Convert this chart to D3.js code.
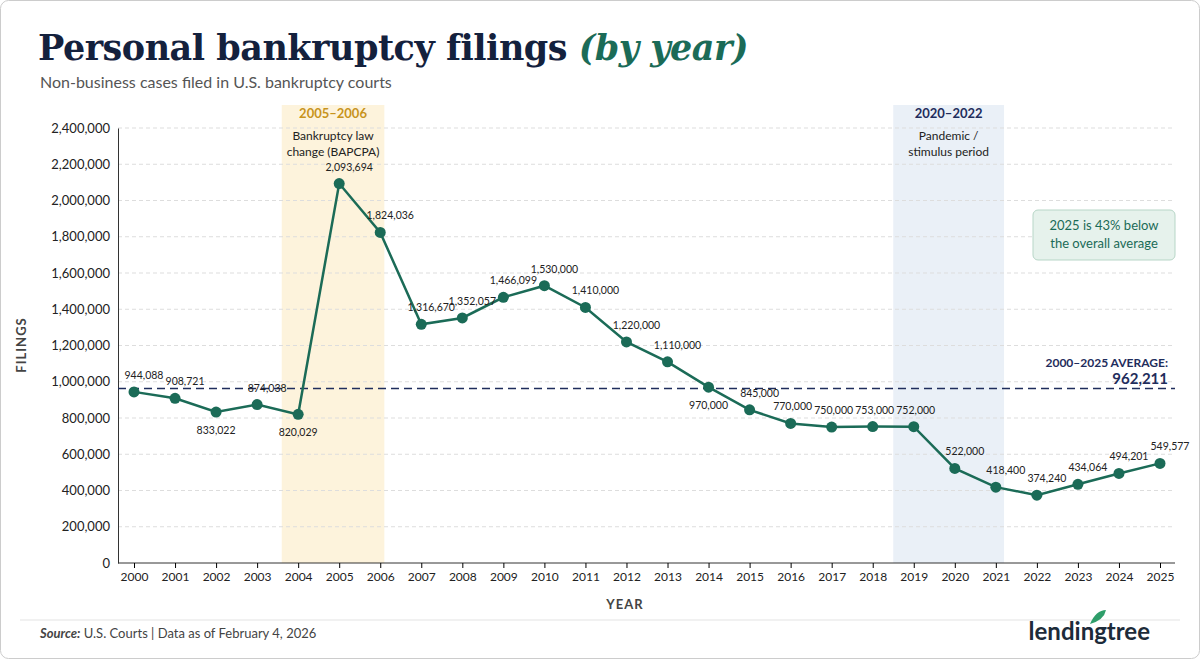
<!DOCTYPE html>
<html><head><meta charset="utf-8">
<script src="https://cdn.jsdelivr.net/npm/d3@7"></script>
<style>body{margin:0;background:#fff;font-family:Lato,"Open Sans",sans-serif}</style>
</head><body><svg id="c" width="1200" height="659"></svg>
<script>
const years=d3.range(2000,2026);
const filings=[944088,908721,833022,874038,820029,2093694,1824036,1316670,1352057,1466099,1530000,1410000,1220000,1110000,970000,845000,770000,750000,753000,752000,522000,418400,374240,434064,494201,549577];
const yTicks=[0,200000,400000,600000,800000,1000000,1200000,1400000,1600000,1800000,2000000,2200000,2400000];
const average=962211;
const bands=[{from:2003.6,to:2006.1,title:"2005–2006",sub:["Bankruptcy law","change (BAPCPA)"],fill:"#fdf3dc",tc:"#c8941c"},
             {from:2018.5,to:2021.2,title:"2020–2022",sub:["Pandemic /","stimulus period"],fill:"#eaf0f7",tc:"#1f2d5c"}];
const green="#1b6b57", navy="#1f2d5c";
const svg=d3.select("#c");
svg.append("rect").attr("x",0.5).attr("y",0.5).attr("width",1199).attr("height",658).attr("rx",8).attr("fill","#fff").attr("stroke","#ccc");
const x=d3.scaleLinear().domain([2000,2025]).range([134,1160]);
const y=d3.scaleLinear().domain([0,2400000]).range([563,128]);
bands.forEach(b=>{
  svg.append("rect").attr("x",x(b.from)).attr("y",105).attr("width",x(b.to)-x(b.from)).attr("height",458).attr("fill",b.fill);
  const cx=(x(b.from)+x(b.to))/2;
  svg.append("text").attr("x",cx).attr("y",118).attr("text-anchor","middle").attr("font-weight",700).attr("font-size",13).attr("fill",b.tc).text(b.title);
  b.sub.forEach((s,i)=>svg.append("text").attr("x",cx).attr("y",140+i*16).attr("text-anchor","middle").attr("font-size",12).attr("fill","#222").text(s));
});
svg.append("g").selectAll("line").data(yTicks.slice(1)).join("line").attr("x1",118).attr("x2",1175)
  .attr("y1",d=>y(d)).attr("y2",d=>y(d)).attr("stroke","#ddd").attr("stroke-dasharray","4,3");
const ya=svg.append("g").attr("transform","translate(118,0)").call(d3.axisLeft(y).tickValues(yTicks).tickFormat(d3.format(",")).tickSize(0).tickPadding(8));
ya.select(".domain").attr("stroke","#333");
ya.selectAll("text").attr("font-size",13).attr("font-family","Lato,sans-serif").attr("fill","#222");
const xa=svg.append("g").attr("transform","translate(0,563)").call(d3.axisBottom(x).tickValues(years).tickFormat(d3.format("d")).tickSize(5).tickPadding(4));
xa.select(".domain").attr("d","M118,0H1175").attr("stroke","#333");
xa.selectAll("text").attr("font-size",12).attr("font-family","Lato,sans-serif").attr("fill","#222");
svg.append("line").attr("x1",118).attr("x2",1175).attr("y1",y(average)).attr("y2",y(average)).attr("stroke",navy).attr("stroke-width",1.5).attr("stroke-dasharray","8,5");
svg.append("text").attr("x",1168).attr("y",y(average)-22).attr("text-anchor","end").attr("font-size",12).attr("font-weight",700).attr("fill",navy).text("2000–2025 AVERAGE:");
svg.append("text").attr("x",1168).attr("y",y(average)-5).attr("text-anchor","end").attr("font-size",15).attr("font-weight",700).attr("fill",navy).text(d3.format(",")(average));
const pts=years.map((yr,i)=>({yr,v:filings[i]}));
svg.append("path").datum(pts).attr("d",d3.line().x(d=>x(d.yr)).y(d=>y(d.v))).attr("fill","none").attr("stroke",green).attr("stroke-width",2.5);
svg.selectAll("circle.p").data(pts).join("circle").attr("cx",d=>x(d.yr)).attr("cy",d=>y(d.v)).attr("r",5.5).attr("fill",green);
const below=[2002,2004,2014];
svg.selectAll("text.l").data(pts).join("text")
  .attr("x",d=>x(d.yr)+(below.includes(d.yr)?0:(d.yr>=2016&&d.yr<=2019?2:10)))
  .attr("y",d=>y(d.v)+(below.includes(d.yr)?22:-13))
  .attr("text-anchor","middle").attr("font-size",10.5).attr("fill","#222").text(d=>d3.format(",")(d.v));
svg.append("text").attr("x",38).attr("y",60).attr("font-family","'DejaVu Serif',serif").attr("font-size",35).attr("font-weight",700).attr("fill","#14213d").attr("letter-spacing",-0.5)
  .text("Personal bankruptcy filings ").append("tspan").attr("fill",green).attr("font-style","italic").text("(by year)");
svg.append("text").attr("x",40).attr("y",88).attr("font-size",16).attr("fill","#555").text("Non-business cases filed in U.S. bankruptcy courts");
svg.append("text").attr("transform","translate(26,345) rotate(-90)").attr("text-anchor","middle").attr("font-size",13).attr("font-weight",700).attr("fill","#444").attr("letter-spacing",1).text("FILINGS");
svg.append("text").attr("x",625).attr("y",609).attr("text-anchor","middle").attr("font-size",13).attr("font-weight",700).attr("fill","#444").attr("letter-spacing",1).text("YEAR");
svg.append("rect").attr("x",1033).attr("y",210).attr("width",142).attr("height",50).attr("rx",5).attr("fill","#e6f2ec").attr("stroke","#b7d6c7");
svg.append("text").attr("x",1104).attr("y",230).attr("text-anchor","middle").attr("font-size",13).attr("fill",green).text("2025 is 43% below");
svg.append("text").attr("x",1104).attr("y",248).attr("text-anchor","middle").attr("font-size",13).attr("fill",green).text("the overall average");
svg.append("line").attr("x1",20).attr("x2",1180).attr("y1",620).attr("y2",620).attr("stroke","#e3e3e3");
const f=svg.append("text").attr("x",40).attr("y",638).attr("font-size",13).attr("fill","#444");
f.append("tspan").attr("font-style","italic").attr("font-weight",700).text("Source:");
f.append("tspan").text("  U.S. Courts  |  Data as of February 4, 2026");
svg.append("text").attr("x",1150).attr("y",640).attr("text-anchor","end").attr("font-size",24).attr("font-weight",700).attr("fill","#1d2b3a").text("lendingtree");
svg.append("path").attr("d","M1090,624 q6,-14 16,-14 q-2,10 -16,14z").attr("fill","#2e9e6a");
</script></body></html>
